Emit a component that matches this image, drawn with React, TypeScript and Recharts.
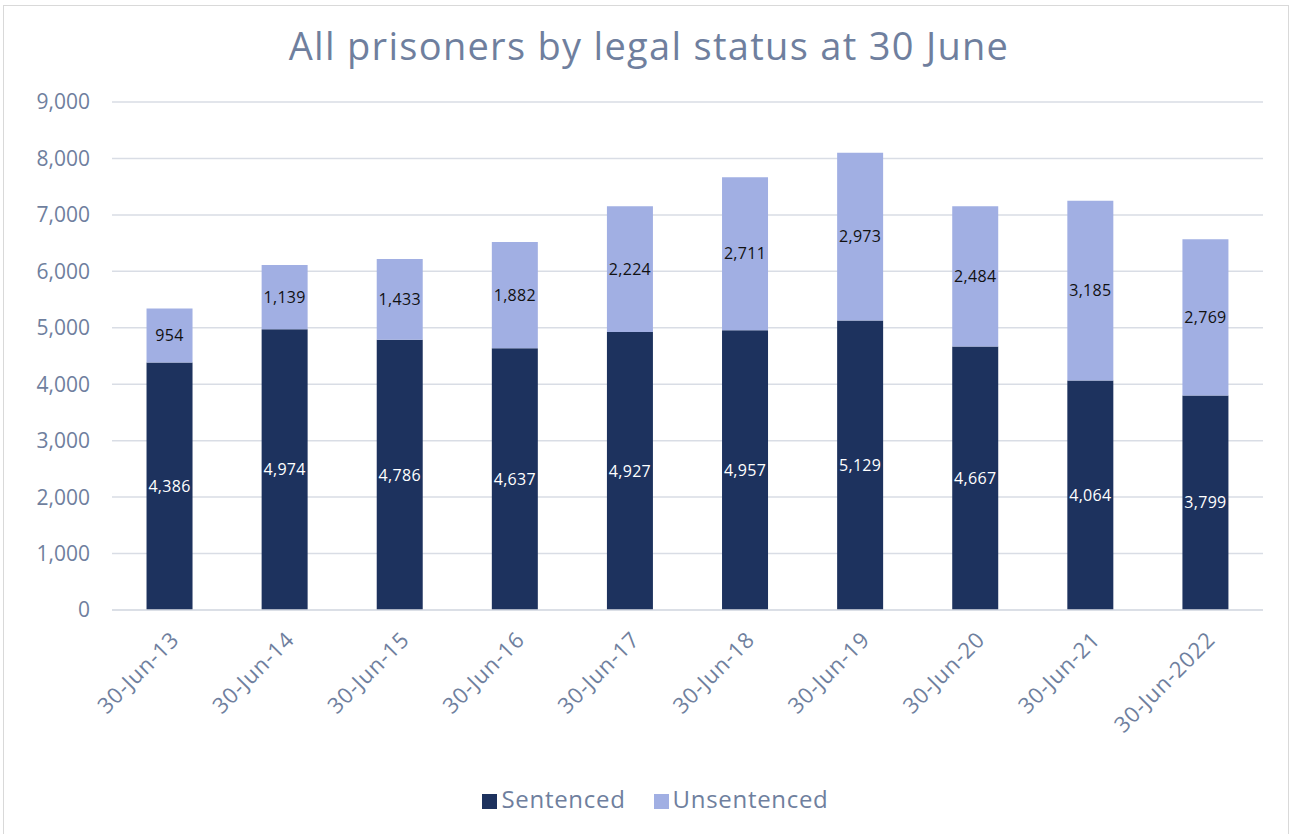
import React from 'react'
import { BarChart, Bar, XAxis, YAxis, CartesianGrid, Legend, LabelList } from 'recharts'

const dates = ['30-Jun-13', '30-Jun-14', '30-Jun-15', '30-Jun-16', '30-Jun-17', '30-Jun-18', '30-Jun-19', '30-Jun-20', '30-Jun-21', '30-Jun-2022']
const sentenced = [4386, 4974, 4786, 4637, 4927, 4957, 5129, 4667, 4064, 3799]
const unsentenced = [954, 1139, 1433, 1882, 2224, 2711, 2973, 2484, 3185, 2769]
const yTicks = [0, 1000, 2000, 3000, 4000, 5000, 6000, 7000, 8000, 9000]

const data = dates.map((d, i) => ({ date: d, Sentenced: sentenced[i], Unsentenced: unsentenced[i] }))

const FONT = '"Open Sans", sans-serif'
const TEXT = '#6f7f9e'
const DARK = '#1d325e'
const LIGHT = '#a1afe3'

const fmt = (v: any) => Number(v).toLocaleString('en-US')

export default function App() {
  return (
    <div style={{ position: 'absolute', left: 0, top: 0, width: 1292, height: 834, background: '#fff', fontFamily: FONT }}>
      <div style={{ position: 'absolute', left: 3, top: 5, width: 1286, height: 840, border: '1.5px solid #d9d9d9', boxSizing: 'border-box' }} />
      <div style={{ position: 'absolute', left: 0, top: 19, width: 1298, textAlign: 'center', fontSize: 38, letterSpacing: 1.3, color: TEXT, fontWeight: 400 }}>
        All prisoners by legal status at 30 June
      </div>
      <BarChart
        width={1292}
        height={834}
        data={data}
        margin={{ top: 102, right: 29, left: 0, bottom: 12 }}
        barCategoryGap="30%"
        style={{ position: 'absolute', left: 0, top: 0 }}
      >
        <CartesianGrid vertical={false} stroke="#d9dde5" strokeWidth={1.5} />
        <XAxis
          dataKey="date"
          height={172}
          interval={0}
          angle={-45}
          textAnchor="end"
          tickLine={false}
          axisLine={{ stroke: '#d9dde5', strokeWidth: 1.5 }}
          tick={{ fontSize: 22, fill: TEXT, fontFamily: FONT, letterSpacing: 0.8 }}
          tickMargin={14}
        />
        <YAxis
          width={112}
          domain={[0, 9000]}
          ticks={yTicks}
          tickFormatter={fmt}
          axisLine={false}
          tickLine={false}
          tickMargin={16}
          tick={{ fontSize: 21, fill: TEXT, fontFamily: FONT }}
        />
        <Legend
          verticalAlign="bottom"
          align="center"
          iconType="square"
          iconSize={15}
          wrapperStyle={{ fontSize: 24, letterSpacing: 0.7, fontFamily: FONT, height: 40, paddingLeft: 29 }}
          formatter={(v: any) => (
            <span style={{ color: TEXT, marginRight: v === 'Sentenced' ? 18 : 0 }}>{v}</span>
          )}
        />
        <Bar dataKey="Sentenced" stackId="a" fill={DARK} isAnimationActive={false}>
          <LabelList dataKey="Sentenced" position="center" formatter={fmt} fill="#ffffff" fontSize={16} fontFamily={FONT} letterSpacing={0.3} />
        </Bar>
        <Bar dataKey="Unsentenced" stackId="a" fill={LIGHT} isAnimationActive={false}>
          <LabelList dataKey="Unsentenced" position="center" formatter={fmt} fill="#111111" fontSize={16} fontFamily={FONT} letterSpacing={0.3} />
        </Bar>
      </BarChart>
    </div>
  )
}
